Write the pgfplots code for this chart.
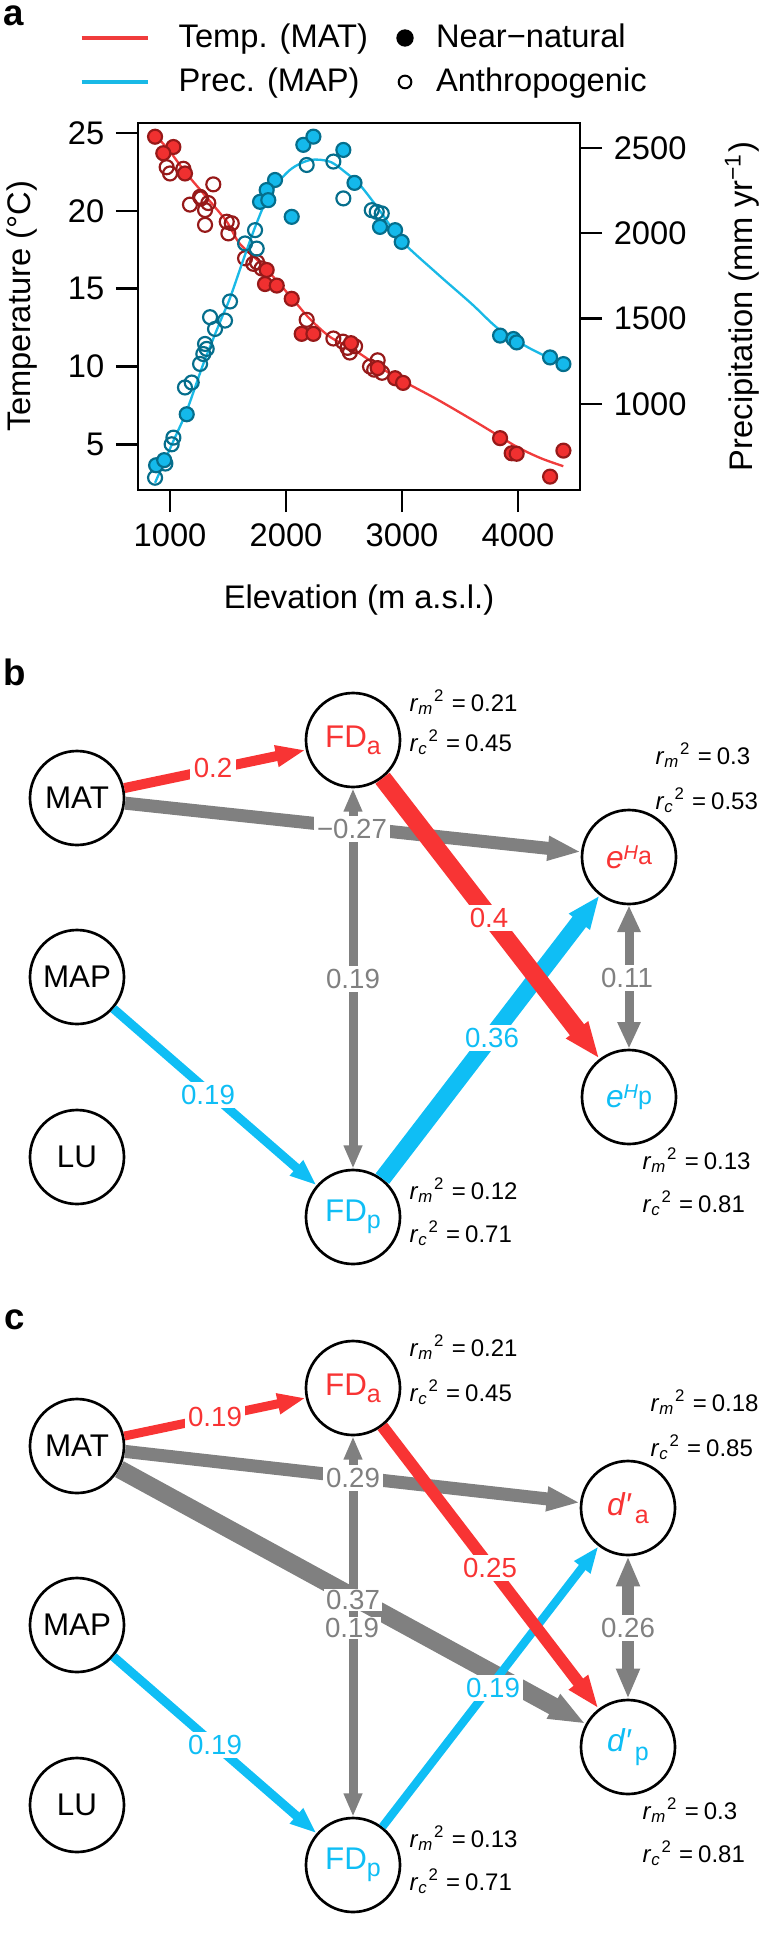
\documentclass[border=0pt]{standalone}
\usepackage{fontspec}
\setmainfont{Liberation Sans}
\usepackage{pgfplots}
\pgfplotsset{compat=1.18}
\usetikzlibrary{arrows.meta}

\definecolor{tred}{RGB}{240,48,48}
\definecolor{tredd}{RGB}{150,25,25}
\definecolor{pcy}{RGB}{20,185,235}
\definecolor{pcyd}{RGB}{5,110,140}
\definecolor{lred}{RGB}{240,60,60}
\definecolor{lcy}{RGB}{25,185,230}
\definecolor{ared}{RGB}{248,52,52}
\definecolor{agray}{RGB}{128,128,128}
\definecolor{acy}{RGB}{15,190,245}

\newcommand\fa{\fontsize{9.8}{11.8}\selectfont}
\newcommand\fn{\fontsize{9.4}{11}\selectfont}
\newcommand\fe{\fontsize{8.3}{10}\selectfont}
\newcommand\fr{\fontsize{7.2}{8.6}\selectfont}
\newcommand\fl{\fontsize{11}{13}\selectfont\bfseries}
% r^2 labels
\newcommand\rr[2]{\textit{r}\textsubscript{\textit{#1}}\textsuperscript{2}\hspace{2pt}=\hspace{1.5pt}#2}
\newcommand\FD[1]{FD{\fontsize{7.5}{8}\selectfont\raisebox{-2pt}{#1}}}
\newcommand\eH[1]{{\fontsize{9.5}{10}\selectfont\textit{e}}{\fontsize{6}{7}\selectfont\raisebox{2.7pt}{\textit{H}}}{\fontsize{7.5}{8}\selectfont\raisebox{1pt}{#1}}}
\newcommand\dd[1]{{\fontsize{9.5}{10}\selectfont\textit{d′}}\hspace{1pt}{\fontsize{7.5}{8}\selectfont\raisebox{-2.5pt}{#1}}}

\pgfplotsset{
  pa/.style={
    at={(41.4pt,-147pt)}, anchor=south west,
    scale only axis, width=132.6pt, height=110.1pt,
    xmin=724, xmax=4534,
    clip mode=individual,
    tick align=outside, major tick length=6.6pt,
    every tick/.style={black, line width=0.75pt},
    axis line style={line width=0.75pt},
    ticklabel style={font=\fa},
    /pgf/number format/1000 sep={},
    /pgf/number format/assume math mode=true,
  },
}
\tikzset{
  circ/.style={circle, draw=black, line width=0.8pt, minimum size=28.2pt, inner sep=0pt, font=\fn, fill=white},
  lab/.style={fill=white, inner sep=1pt, font=\fe},
  rsq/.style={font=\fr, anchor=west, inner sep=0pt},
}

\begin{document}
\begin{tikzpicture}
% ---- panel a: temperature
\begin{axis}[pa,
  ymin=2.07, ymax=25.64,
  xtick={1000,2000,3000,4000}, ytick={5,10,15,20,25},
  tick pos=left,
]
\addplot[lred, line width=0.7pt, smooth, forget plot] coordinates {
 (870,24.9) (1000,23.8) (1130,22.5) (1300,21.0) (1490,19.3) (1600,17.9) (1800,16.5)
 (2050,14.4) (2200,13.1) (2380,11.9) (2600,11.0) (2800,10.0) (3000,9.1) (3300,7.9)
 (3600,6.6) (3800,5.7) (4000,4.8) (4200,4.1) (4390,3.6)};
% anthropogenic
\addplot[only marks, mark=o, mark size=2.1pt, tredd, line width=0.65pt, forget plot] coordinates {
 (971,22.8) (1000,22.4) (1115,22.7) (1373,21.7) (1259,20.9) (1267,20.8) (1330,20.5)
 (1302,20.05) (1172,20.4) (1302,19.1) (1489,19.3) (1532,19.2) (1503,18.55) (1647,16.95)
 (1718,16.6) (1750,16.7) (1790,16.3) (2178,13.0) (2408,11.8) (2490,11.6) (2530,11.2)
 (2550,10.9) (2595,11.3) (2724,10.0) (2760,9.8) (2790,10.4) (2828,9.6)};
% near-natural
\addplot[only marks, mark=*, mark size=2.1pt, tredd, line width=0.65pt,
  mark options={fill=tred}, forget plot] coordinates {
 (871,24.76) (1029,24.1) (942,23.7) (1129,22.4) (1833,16.2) (1819,15.3) (1920,15.2)
 (2049,14.35) (2135,12.1) (2236,12.1) (2560,11.5) (2790,9.9) (2940,9.25) (3009,8.95)
 (3845,5.4) (3945,4.43) (3988,4.4) (4276,2.93) (4391,4.6)};
\node[rotate=90, font=\fa] at (rel axis cs:-0.262,0.5) {Temperature (°C)};
\node[font=\fa] at (rel axis cs:0.5,-0.30) {Elevation (m a.s.l.)};
\end{axis}
% ---- panel a: precipitation
\begin{axis}[pa,
  ymin=495, ymax=2646,
  axis y line*=right, axis x line=none,
  ytick={1000,1500,2000,2500},
  legend columns=2,
  legend cell align=left,
  legend style={at={(rel axis cs:-0.1312,1.1717)}, anchor=west, draw=none, fill=none,
    inner sep=0pt, outer sep=0pt, font=\fa, row sep=4.6pt,
    nodes={inner sep=0pt},
    /tikz/every even column/.append style={column sep=7.1pt}},
]
\addlegendimage{legend image code/.code={\draw[lred, line width=1pt] (0pt,0pt) -- (19.8pt,0pt); \path[draw=none, fill=none] (0pt,0pt) -- (29.1pt,0pt);}}
\addlegendimage{legend image code/.code={\path[draw=none, fill=none] (-4pt,0pt) -- (9.3pt,0pt); \fill[black] (0pt,0pt) circle (2.4pt);}}
\addlegendimage{legend image code/.code={\draw[lcy, line width=1pt] (0pt,0pt) -- (19.8pt,0pt); \path[draw=none, fill=none] (0pt,0pt) -- (29.1pt,0pt);}}
\addlegendimage{legend image code/.code={\path[draw=none, fill=none] (-4pt,0pt) -- (9.3pt,0pt); \draw[black, line width=0.6pt, fill=none] (0pt,0pt) circle (1.9pt);}}
\legend{Temp. (MAT), Near−natural, Prec. (MAP), Anthropogenic}
\addplot[lcy, line width=0.7pt, smooth, forget plot] coordinates {
 (871,537) (1029,782) (1144,959) (1287,1234) (1431,1480) (1517,1620) (1632,1845)
 (1747,2060) (1862,2235) (2034,2371) (2207,2429) (2379,2419) (2523,2351) (2638,2282)
 (2800,2140) (2997,1955) (3300,1765) (3600,1586) (3830,1440) (4086,1331) (4405,1224)};
\addplot[only marks, mark=o, mark size=2.1pt, pcyd, line width=0.65pt, forget plot] coordinates {
 (2178,2400) (2408,2420) (2494,2204) (1733,2018) (1647,1940) (1747,1910) (1517,1600)
 (1345,1508) (1474,1488) (1388,1439) (1302,1351) (1316,1322) (1287,1292) (1259,1234)
 (1129,1096) (1187,1125) (1029,802) (1014,763) (960,650) (871,567)
 (2739,2135) (2782,2125) (2825,2116)};
\addplot[only marks, mark=*, mark size=2.1pt, pcyd, line width=0.65pt,
  mark options={fill=pcy}, forget plot] coordinates {
 (2149,2518) (2236,2566) (2494,2488) (2590,2295) (1905,2312) (1833,2253) (1776,2184)
 (1847,2194) (2049,2096) (2810,2037) (2940,2018) (2997,1949) (3845,1400) (3960,1380)
 (3988,1360) (4276,1272) (4391,1233) (1144,939) (880,640) (950,670)};
\node[rotate=90, font=\fa] at (rel axis cs:1.367,0.5) {Precipitation (mm yr\textsuperscript{−1})};
\end{axis}
% ---- panels b and c: path diagrams
\begin{axis}[
  at={(0pt,-581.1pt)}, anchor=south west,
  scale only axis, width=228.6pt, height=389.1pt,
  xmin=0, xmax=762, ymin=-1937, ymax=-640,
  hide axis, clip=false,
]
\node[font=\fl, inner sep=0pt] at (axis cs:14,-16) {a};
\node[font=\fl, inner sep=0pt] at (axis cs:15,-672) {b};
\node[font=\fl, inner sep=0pt] at (axis cs:15,-1320) {c};
% panel b nodes
\node[circ] (bMAT) at (axis cs:77,-798) {MAT};
\node[circ] (bMAP) at (axis cs:77,-977) {MAP};
\node[circ] (bLU) at (axis cs:77,-1157) {LU};
\node[circ, text=ared] (bFDa) at (axis cs:353,-740) {\FD{a}};
\node[circ, text=acy] (bFDp) at (axis cs:353,-1217) {\FD{p}};
\node[circ, text=ared] (bEa) at (axis cs:629,-857) {\eH{a}};
\node[circ, text=acy] (bEp) at (axis cs:629,-1097) {\eH{p}};
% panel b arrows
\draw[agray, line width=3.9pt, -{Triangle[length=10pt,width=6.8pt]}] (bMAT) -- (bEa);
\draw[agray, line width=2.7pt, {Triangle[length=7pt,width=5.2pt]}-{Triangle[length=7pt,width=5.2pt]}] (bFDa) -- (bFDp);
\draw[agray, line width=2.7pt, {Triangle[length=8pt,width=6.5pt]}-{Triangle[length=8pt,width=6.5pt]}] (bEa) -- (bEp);
\draw[acy, line width=2.7pt, -{Triangle[length=8pt,width=5.6pt]}] (bMAP) -- (bFDp);
\draw[acy, line width=5.1pt, -{Triangle[length=10pt,width=7.2pt]}] (bFDp) -- (bEa);
\draw[ared, line width=3pt, -{Triangle[length=9pt,width=6pt]}] (bMAT) -- (bFDa);
\draw[ared, line width=5.4pt, -{Triangle[length=11pt,width=7.6pt]}] (bFDa) -- (bEp);
\node[lab, text=ared] at (axis cs:213,-768) {0.2};
\node[lab, text=agray] at (axis cs:352,-829) {−0.27};
\node[lab, text=agray] at (axis cs:353,-979) {0.19};
\node[lab, text=ared] at (axis cs:489,-918) {0.4};
\node[lab, text=acy] at (axis cs:208,-1095) {0.19};
\node[lab, text=acy] at (axis cs:492,-1038) {0.36};
\node[lab, text=agray] at (axis cs:627,-978) {0.11};
\node[rsq] at (axis cs:409,-702) {\rr{m}{0.21}};
\node[rsq] at (axis cs:409,-742) {\rr{c}{0.45}};
\node[rsq] at (axis cs:409,-1190) {\rr{m}{0.12}};
\node[rsq] at (axis cs:409,-1233) {\rr{c}{0.71}};
\node[rsq] at (axis cs:655,-755) {\rr{m}{0.3}};
\node[rsq] at (axis cs:655,-800) {\rr{c}{0.53}};
\node[rsq] at (axis cs:642,-1160) {\rr{m}{0.13}};
\node[rsq] at (axis cs:642,-1203) {\rr{c}{0.81}};
% panel c nodes
\node[circ] (cMAT) at (axis cs:77,-1446) {MAT};
\node[circ] (cMAP) at (axis cs:77,-1625) {MAP};
\node[circ] (cLU) at (axis cs:77,-1805) {LU};
\node[circ, text=ared] (cFDa) at (axis cs:353,-1388) {\FD{a}};
\node[circ, text=acy] (cFDp) at (axis cs:353,-1865) {\FD{p}};
\node[circ, text=ared] (cDa) at (axis cs:628,-1508) {\dd{a}};
\node[circ, text=acy] (cDp) at (axis cs:628,-1747) {\dd{p}};
% panel c arrows
\draw[agray, line width=3.9pt, -{Triangle[length=10pt,width=6.8pt]}] (cMAT) -- (cDa);
\draw[agray, line width=5.4pt, -{Triangle[length=11pt,width=7.6pt]}] (cMAT) -- (cDp);
\draw[agray, line width=2.7pt, {Triangle[length=7pt,width=5.2pt]}-{Triangle[length=7pt,width=5.2pt]}] (cFDa) -- (cFDp);
\draw[agray, line width=3.8pt, {Triangle[length=9pt,width=6.6pt]}-{Triangle[length=9pt,width=6.6pt]}] (cDa) -- (cDp);
\draw[acy, line width=2.7pt, -{Triangle[length=8pt,width=5.6pt]}] (cMAP) -- (cFDp);
\draw[acy, line width=2.5pt, -{Triangle[length=8pt,width=5.6pt]}] (cFDp) -- (cDa);
\draw[ared, line width=2.7pt, -{Triangle[length=8.5pt,width=5.8pt]}] (cMAT) -- (cFDa);
\draw[ared, line width=3.6pt, -{Triangle[length=10pt,width=6.6pt]}] (cFDa) -- (cDp);
\node[lab, text=ared] at (axis cs:215,-1417) {0.19};
\node[lab, text=agray] at (axis cs:353,-1478) {0.29};
\node[lab, text=agray, inner sep=0.5pt] at (axis cs:353,-1600) {0.37};
\node[lab, text=agray, inner sep=0.5pt] at (axis cs:352,-1628) {0.19};
\node[lab, text=ared] at (axis cs:490,-1568) {0.25};
\node[lab, text=agray] at (axis cs:628,-1628) {0.26};
\node[lab, text=acy] at (axis cs:493,-1688) {0.19};
\node[lab, text=acy] at (axis cs:215,-1745) {0.19};
\node[rsq] at (axis cs:409,-1347) {\rr{m}{0.21}};
\node[rsq] at (axis cs:409,-1392) {\rr{c}{0.45}};
\node[rsq] at (axis cs:409,-1838) {\rr{m}{0.13}};
\node[rsq] at (axis cs:409,-1881) {\rr{c}{0.71}};
\node[rsq] at (axis cs:650,-1402) {\rr{m}{0.18}};
\node[rsq] at (axis cs:650,-1447) {\rr{c}{0.85}};
\node[rsq] at (axis cs:642,-1810) {\rr{m}{0.3}};
\node[rsq] at (axis cs:642,-1853) {\rr{c}{0.81}};
\end{axis}
\pgfresetboundingbox
\path[use as bounding box] (0pt,0pt) rectangle (228.6pt,-581.1pt);
\end{tikzpicture}
\end{document}
